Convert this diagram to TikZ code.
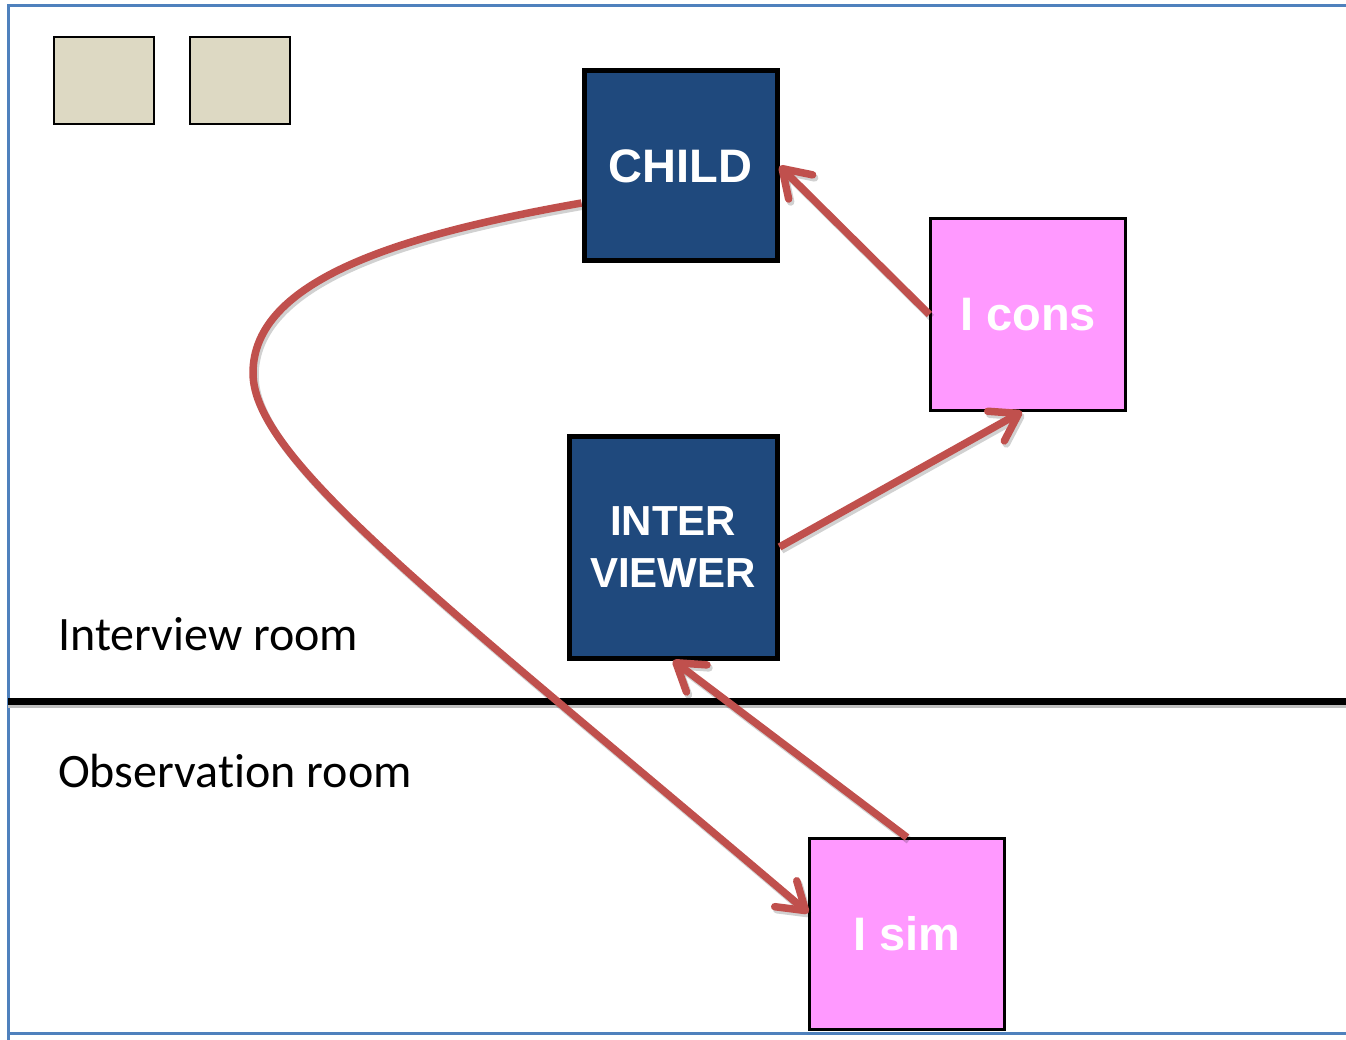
\documentclass[tikz,border=0pt]{standalone}
\usepackage{fontspec}
\newfontfamily\boxfont{Liberation Sans}
\newfontfamily\labelfont[Ligatures={NoCommon,NoContextual}]{Carlito}
\usetikzlibrary{arrows.meta,calc}

\definecolor{navybox}{HTML}{1F497D}
\definecolor{pinkbox}{HTML}{FF99FF}
\definecolor{beigebox}{HTML}{DDD9C3}
\definecolor{linkred}{HTML}{C0504D}
\definecolor{frameblue}{HTML}{4F81BD}

\tikzset{
  person/.style={draw=black, line width=5pt, fill=navybox, text=white,
    font=\boxfont\bfseries\fontsize{47}{52}\selectfont, align=center, inner sep=0pt},
  interp/.style={draw=black, line width=2.2pt, fill=pinkbox, text=white,
    font=\boxfont\bfseries\fontsize{47}{52}\selectfont, inner sep=0pt},
  seat/.style={draw=black, line width=2.5pt, fill=beigebox,
    minimum width=100pt, minimum height=87pt, inner sep=0pt},
  roomlabel/.style={anchor=base west, inner sep=0pt,
    font=\labelfont\fontsize{48}{56}\selectfont},
  link/.style={draw=linkred, line width=7.5pt,
    -{Straight Barb[length=26pt,width=34pt,round]},
    preaction={draw=black, opacity=0.18, line width=7.5pt,
      transform canvas={shift={(2pt,-3pt)}}}},
}

\begin{document}
\begin{tikzpicture}[x=1pt,y=-1pt]
\useasboundingbox (0,0) rectangle (1346,1040);

% outer frame
\draw[frameblue, line width=3pt] (8,1040) -- (8,6) -- (1346,6);
\draw[frameblue, line width=3pt] (8,1033) -- (1346,1033);

% wall between the two rooms
\draw[black!25, line width=7pt] (8,704) -- (1346,704);
\draw[black, line width=7pt] (8,701) -- (1346,701);

% chairs
\node[seat] (seatA) at (104,80.5) {};
\node[seat] (seatB) at (240,80.5) {};

% people and interpreters
\node[person, minimum width=193pt, minimum height=190pt] (child) at (680.5,166) {CHILD};
\node[person, minimum width=208pt, minimum height=222pt, font=\boxfont\bfseries\fontsize{42}{52}\selectfont]
  (inter) at (673,547) {INTER\\VIEWER};
\node[interp, minimum width=195pt, minimum height=192pt] (icons) at (1028,314.5) {I cons};
\node[interp, minimum width=195pt, minimum height=191pt] (isim) at (907,934) {I sim};

% room names
\node[roomlabel] (upper) at (58,650) {Interview room};
\node[roomlabel] (lower) at (58,787) {Observat\kern0pt ion room};

% connections
\coordinate (childout) at ($(child.west)+(0,37)$);
\coordinate (simin) at ($(isim.west)+(0,-21)$);
\coordinate (consin) at ($(icons.south)+(-6,0)$);

\draw[link] (icons.west) -- (child.east);
\draw[link] (inter.east) -- (consin);
\draw[link] (isim.north) -- (inter.south);
\draw[link] (childout) .. controls (400,235) and (253,280) .. (253,373)
  .. controls (253,460) and (440,600) .. (simin);
\end{tikzpicture}
\end{document}
